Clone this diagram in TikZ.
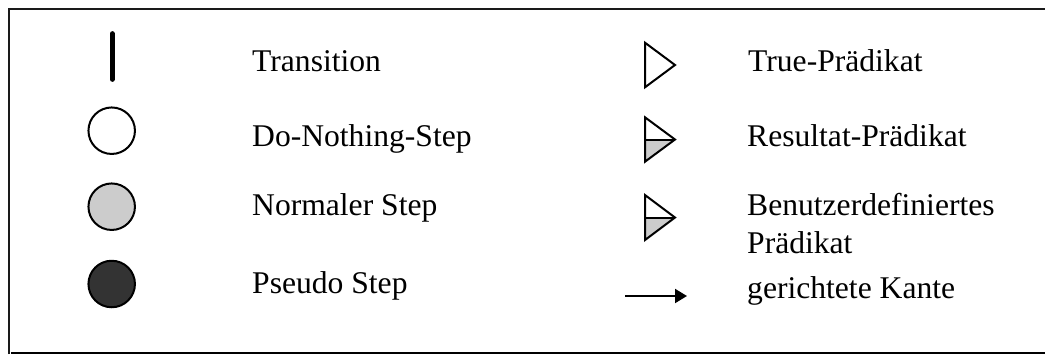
\documentclass[tikz,border=0pt]{standalone}
\usepackage{fontspec}
\setmainfont{Liberation Serif}
\usetikzlibrary{arrows.meta}
\definecolor{lightfill}{HTML}{CCCCCC}
\definecolor{darkfill}{HTML}{333333}
\definecolor{frameline}{HTML}{1A1A1A}
\definecolor{baseline}{HTML}{E0E0E0}
\begin{document}
\begin{tikzpicture}[x=1pt,y=-1pt,
  label/.style={anchor=base west,inner sep=0pt,font=\fontsize{31.6}{38}\selectfont},
  stepcircle/.style={circle,draw=black,line width=2pt,minimum size=46.5pt,inner sep=0pt},
  tri/.style={draw=black,line width=2pt,line join=miter}]
  \useasboundingbox (0,0) rectangle (1045,354);
  % frame
  \draw[frameline,line width=2pt] (9,354) -- (9,9) -- (1045,9);
  \draw[baseline,line width=2pt] (11,353) -- (1045,353);

  % left column symbols
  \coordinate (tA) at (112.3,33.5);
  \coordinate (tB) at (112.3,79.5);
  \draw[line width=4.7pt,line cap=round] (tA) -- (tB);
  \node[stepcircle,fill=white] (c1) at (111.7,130.7) {};
  \node[stepcircle,fill=lightfill] (c2) at (111.7,206.7) {};
  \node[stepcircle,fill=darkfill] (c3) at (111.7,284) {};

  % left column labels
  \node[label] (l1) at (252,71) {Transition};
  \node[label] (l2) at (252,146.7) {Do-Nothing-Step};
  \node[label] (l3) at (252,215) {Normaler Step};
  \node[label] (l4) at (252,293.3) {Pseudo Step};

  % right column symbols
  \draw[tri,fill=white] (645,42.7) -- (675,65) -- (645,87.3) -- cycle;
  \fill[lightfill] (645,139.5) -- (675,139.5) -- (645,161.7) -- cycle;
  \draw[tri] (645,117.3) -- (675,139.5) -- (645,161.7) -- cycle;
  \draw[line width=2pt] (645,139.5) -- (675,139.5);
  \fill[lightfill] (645,217.5) -- (675,217.5) -- (645,240) -- cycle;
  \draw[tri] (645,195) -- (675,217.5) -- (645,240) -- cycle;
  \draw[line width=2pt] (645,217.5) -- (675,217.5);

  \coordinate (aS) at (625,296);
  \coordinate (aE) at (687,296);
  \draw[line width=2pt,-{Triangle[length=12pt,width=14pt]}] (aS) -- (aE);

  % right column labels
  \node[label] (r1) at (748,71) {True-Prädikat};
  \node[label] (r2) at (747,146.7) {Resultat-Prädikat};
  \node[label] (r3) at (747,215) {Benutzerdefiniertes};
  \node[label] (r4) at (747,253.3) {Prädikat};
  \node[label] (r5) at (747,298.3) {gerichtete Kante};
\end{tikzpicture}
\end{document}
